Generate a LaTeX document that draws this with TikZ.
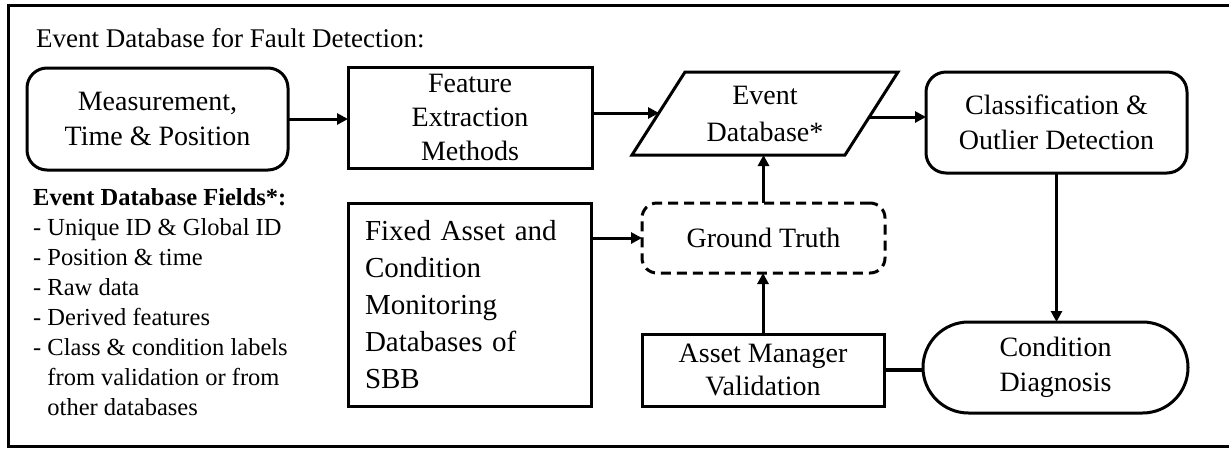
\documentclass[tikz,border=0pt]{standalone}
\usepackage{fontspec}
\setmainfont{Liberation Serif}
\usetikzlibrary{arrows.meta,calc}
\newcommand\fsTitle{\fontsize{27}{32}\selectfont}
\newcommand\fsBox{\fontsize{28}{35}\selectfont}
\newcommand\fsFix{\fontsize{29}{37}\selectfont}
\newcommand\fsList{\fontsize{24.5}{30}\selectfont}
\begin{document}
\begin{tikzpicture}[x=1pt,y=-1pt,
  box/.style={draw,line width=3pt,align=center,inner sep=0pt,outer sep=0pt,font=\fsBox},
  rbox/.style={box,rounded corners=20pt},
  link/.style={line width=3pt,-{Triangle[length=11pt,width=11pt]}},
  plain/.style={line width=4.5pt}]
\useasboundingbox (0,0) rectangle (1229,448);
% outer frame
\draw[line width=3pt] (8,5) rectangle (1240,446);
% title
\node[anchor=base west,inner sep=0pt,font=\fsTitle] (T) at (36,47) {Event Database for Fault Detection:};
% main nodes
\node[rbox,minimum width=261pt,minimum height=102pt] (M) at (157.5,119) {Measurement,\\Time \& Position};
\node[box,minimum width=244pt,minimum height=101pt,font=\fontsize{28}{34}\selectfont] (F) at (470,117.5) {Feature\\Extraction\\Methods};
% event database parallelogram
\draw[line width=3pt,line join=miter] (632,155) -- (685,72) -- (898,72) -- (845,155) -- cycle;
\node[align=center,inner sep=0pt,font=\fontsize{28}{37}\selectfont] (E) at (765,113.5) {Event\\Database*};
\coordinate (Ein) at (659,113);
\coordinate (Eout) at (869,117);
\coordinate (Ebot) at (764,155);
\node[rbox,minimum width=261pt,minimum height=101pt] (C) at (1056.5,122.5) {Classification \&\\Outlier Detection};
\node[box,rounded corners=45.5pt,minimum width=265pt,minimum height=91pt] (D) at (1055.5,367.5) {Condition\\Diagnosis};
\node[box,minimum width=242pt,minimum height=72pt,font=\fontsize{28}{33}\selectfont] (A) at (763,370) {Asset Manager\\Validation};
\node[box,rounded corners=15pt,dash pattern=on 10pt off 6pt,minimum width=243pt,minimum height=70pt] (G) at (763.5,238) {Ground Truth};
\node[box,minimum width=243pt,minimum height=203pt,text width=209pt,align=left,font=\fsFix] (X) at (469.5,304.5) {Fixed Asset and\\Condition\\Monitoring\\Databases of\\SBB};
% field list
\node[anchor=north west,inner sep=0pt,align=left,font=\fsList] (L) at (33,188) {\textbf{Event Database Fields*:}\\
- Unique ID \& Global ID\\
- Position \& time\\
- Raw data\\
- Derived features\\
- Class \& condition labels\\
\hphantom{- }from validation or from\\
\hphantom{- }other databases};
% connectors
\draw[link] (M.east) -- (M.east -| F.west);
\draw[link] (F.east |- Ein) -- (Ein);
\draw[link] (Eout) -- (Eout -| C.west);
\draw[link] (C.south) -- (C.south |- D.north);
\draw[link] (A.north) -- (A.north |- G.south);
\draw[link] (G.north) -- (G.north |- Ebot);
\draw[link] (X.east |- G.west) -- (G.west);
\draw[plain] (A.east) -- (A.east -| D.west);
\end{tikzpicture}
\end{document}
